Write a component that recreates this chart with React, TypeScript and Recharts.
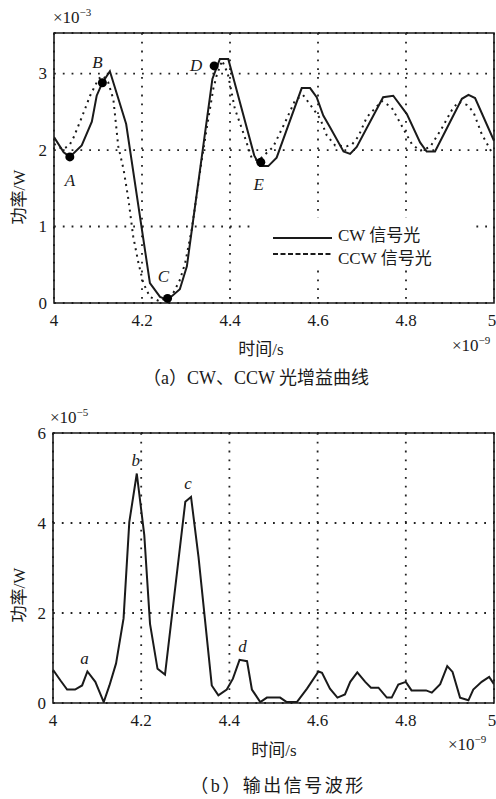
import React from "react";
import {
  ComposedChart,
  Line,
  XAxis,
  YAxis,
  CartesianGrid,
  ReferenceDot,
  ReferenceArea,
} from "recharts";

// --- (a) CW / CCW 光增益曲线: 时间 ×1e-9 s, 功率 ×1e-3 W ---
const cwTime = [
  4.0, 4.022, 4.036, 4.063, 4.086, 4.097, 4.11, 4.127, 4.164, 4.218, 4.241, 4.258,
  4.286, 4.302, 4.36, 4.377, 4.396, 4.404, 4.455, 4.468, 4.487, 4.506, 4.563, 4.582,
  4.597, 4.612, 4.627, 4.658, 4.673, 4.688, 4.748, 4.771, 4.802, 4.832, 4.847, 4.866,
  4.927, 4.942, 4.957, 5.0,
];
const cwPower = [
  2.17, 1.97, 1.91, 2.06, 2.37, 2.71, 2.88, 3.03, 2.34, 0.26, 0.08, 0.04,
  0.18, 0.48, 2.93, 3.19, 3.19, 3.02, 1.93, 1.79, 1.79, 1.9, 2.81, 2.81,
  2.69, 2.45, 2.3, 1.98, 1.95, 2.04, 2.69, 2.71, 2.47, 2.1, 1.98, 1.98,
  2.67, 2.72, 2.68, 2.12,
];
const ccwTime = [
  4.0, 4.02, 4.035, 4.045, 4.064, 4.082, 4.101, 4.112, 4.123, 4.135, 4.146, 4.158,
  4.169, 4.18, 4.192, 4.203, 4.218, 4.241, 4.271, 4.286, 4.298, 4.313, 4.324, 4.335,
  4.347, 4.362, 4.37, 4.382, 4.395, 4.411, 4.43, 4.449, 4.464, 4.498, 4.525, 4.548,
  4.566, 4.589, 4.605, 4.62, 4.639, 4.665, 4.677, 4.692, 4.711, 4.745, 4.767, 4.79,
  4.813, 4.832, 4.855, 4.881, 4.904, 4.919, 4.938, 4.953, 4.972, 4.995,
];
const ccwPower = [
  2.08, 2.01, 2.06, 2.17, 2.44, 2.71, 2.93, 2.97, 2.89, 2.66, 2.05, 1.75,
  1.36, 0.87, 0.52, 0.26, 0.08, 0.02, 0.13, 0.3, 0.52, 0.96, 1.4, 1.84,
  2.28, 2.8, 2.98, 3.17, 3.0, 2.54, 2.23, 1.9, 1.86, 2.04, 2.36, 2.65,
  2.72, 2.54, 2.41, 2.19, 2.06, 2.05, 2.07, 2.18, 2.43, 2.64, 2.56, 2.32,
  2.08, 1.99, 2.04, 2.28, 2.52, 2.63, 2.59, 2.5, 2.21, 1.97,
];
const markNames = ["A", "B", "C", "D", "E"];
const markTime = [4.036, 4.11, 4.258, 4.364, 4.47];
const markPower = [1.91, 2.88, 0.06, 3.1, 1.84];

const timeTicks = [4, 4.2, 4.4, 4.6, 4.8, 5];
const gainTicks = [0, 1, 2, 3];

// --- (b) 输出信号波形: 功率 ×1e-5 W ---
const outTime = [
  4.0, 4.017, 4.032, 4.05, 4.066, 4.078, 4.096, 4.115, 4.128, 4.143, 4.16, 4.173,
  4.19, 4.207, 4.22, 4.237, 4.254, 4.3, 4.313, 4.33, 4.36, 4.375, 4.394, 4.408,
  4.423, 4.44, 4.451, 4.47, 4.485, 4.515, 4.53, 4.553, 4.576, 4.602, 4.61, 4.628,
  4.645, 4.662, 4.674, 4.69, 4.708, 4.721, 4.738, 4.757, 4.768, 4.783, 4.8, 4.813,
  4.846, 4.859, 4.878, 4.894, 4.906, 4.923, 4.942, 4.953, 4.972, 4.989, 5.0,
];
const outPower = [
  0.74, 0.5, 0.3, 0.3, 0.39, 0.7, 0.47, 0.02, 0.39, 0.88, 1.88, 4.02,
  5.1, 3.73, 1.76, 0.76, 0.63, 4.47, 4.58, 3.24, 0.39, 0.17, 0.3, 0.54,
  0.96, 0.93, 0.3, 0.02, 0.12, 0.12, 0.02, 0.02, 0.32, 0.7, 0.67, 0.32,
  0.12, 0.19, 0.47, 0.68, 0.47, 0.34, 0.34, 0.12, 0.12, 0.41, 0.47, 0.28,
  0.28, 0.23, 0.42, 0.82, 0.69, 0.12, 0.06, 0.3, 0.47, 0.58, 0.42,
];
const peakNames = ["a", "b", "c", "d"];
const peakTime = [4.078, 4.19, 4.313, 4.423];
const peakPower = [0.7, 5.1, 4.58, 0.96];
const outTicks = [0, 2, 4, 6];

const SERIF = "'Liberation Serif', 'Times New Roman', 'DejaVu Serif', 'Noto Sans CJK SC', serif";
const INK = "#1a1a1a";

const cwData = cwTime.map((t, i) => ({ t, p: cwPower[i] }));
const ccwData = ccwTime.map((t, i) => ({ t, p: ccwPower[i] }));
const outData = outTime.map((t, i) => ({ t, p: outPower[i] }));

// letter placement relative to the point (px)
const letterShift: Record<string, [number, number]> = {
  A: [0, 24], B: [-5, -20], C: [-4, -22], D: [-18, 0], E: [-2, 22],
  a: [-3, -13], b: [-1, -13], c: [-3, -13], d: [3, -13],
};

const letterLabel = (name: string) => (props: any) => {
  const vb = props.viewBox || {};
  const cx = (vb.x || 0) + (vb.width || 0) / 2;
  const cy = (vb.y || 0) + (vb.height || 0) / 2;
  const [dx, dy] = letterShift[name];
  return (
    <text x={cx + dx} y={cy + dy} textAnchor="middle" dominantBaseline="central"
      fontFamily={SERIF} fontStyle="italic" fontSize={17} fill={INK}>
      {name}
    </text>
  );
};

const XTick = (p: any) => (
  <text x={p.x} y={p.y + 17} textAnchor="middle" dominantBaseline="central"
    fontFamily={SERIF} fontSize={17} fill={INK}>
    {String(p.payload.value)}
  </text>
);
const YTick = (p: any) => (
  <text x={p.x - 7} y={p.y} textAnchor="end" dominantBaseline="central"
    fontFamily={SERIF} fontSize={17} fill={INK}>
    {String(p.payload.value)}
  </text>
);

function Txt({ x, y, size = 17, left = false, rotate = false, spacing = 0, children }: any) {
  return (
    <div
      style={{
        position: "absolute", left: x, top: y, whiteSpace: "nowrap",
        fontFamily: SERIF, fontSize: size, lineHeight: 1, color: INK,
        letterSpacing: spacing,
        transform: `translate(${left ? "0" : "-50%"}, -50%)${rotate ? " rotate(-90deg)" : ""}`,
      }}
    >
      {children}
    </div>
  );
}

const Pow = ({ e }: { e: string }) => (
  <span>×10<sup style={{ fontSize: 11, verticalAlign: 0, position: "relative", top: -7 }}>{e}</sup></span>
);

export default function App() {
  return (
    <div style={{ position: "absolute", left: 0, top: 0, width: 496, height: 799, background: "#fff", overflow: "hidden" }}>
      <div style={{ position: "absolute", left: 0, top: 0 }}>
        <ComposedChart width={496} height={400} margin={{ top: 33, right: 2, bottom: 0, left: 0 }}>
          <CartesianGrid stroke="#222" strokeWidth={1.8} strokeDasharray="1.8 7" />
          <XAxis dataKey="t" type="number" domain={[4, 5]} ticks={timeTicks} allowDataOverflow
            height={97} axisLine={false} tickLine={false} tickSize={0} tickMargin={0} tick={XTick} />
          <YAxis type="number" domain={[0, 3.53]} ticks={gainTicks} allowDataOverflow
            width={54} axisLine={false} tickLine={false} tickSize={0} tickMargin={0} tick={YTick} />
          <ReferenceArea x1={4} x2={5} y1={0} y2={3.53} fill="none" stroke={INK} strokeWidth={1.6} />
          <Line data={ccwData} dataKey="p" type="linear" stroke={INK} strokeWidth={2}
            strokeDasharray="2 4.5" dot={false} isAnimationActive={false} />
          <Line data={cwData} dataKey="p" type="linear" stroke={INK} strokeWidth={2}
            dot={false} isAnimationActive={false} />
          {markNames.map((n, i) => (
            <ReferenceDot key={n} x={markTime[i]} y={markPower[i]} r={4.5} fill="#000" stroke="none"
              label={{ content: letterLabel(n) }} />
          ))}
        </ComposedChart>
        <div style={{ position: "absolute", left: 250, top: 218, width: 223, height: 49, background: "#fff" }}>
          <svg width={223} height={49} style={{ position: "absolute", left: 0, top: 0 }}>
            <line x1={23} x2={82} y1={20} y2={20} stroke={INK} strokeWidth={2} />
            <line x1={23} x2={82} y1={36} y2={36} stroke={INK} strokeWidth={2} strokeDasharray="5 2.5" />
          </svg>
          <Txt x={88} y={17} left>CW 信号光</Txt>
          <Txt x={88} y={40} left>CCW 信号光</Txt>
        </div>
      </div>

      <div style={{ position: "absolute", left: 0, top: 400 }}>
        <ComposedChart width={496} height={399} margin={{ top: 33, right: 2, bottom: 0, left: 0 }}>
          <CartesianGrid stroke="#222" strokeWidth={1.8} strokeDasharray="1.8 7" />
          <XAxis dataKey="t" type="number" domain={[4, 5]} ticks={timeTicks} allowDataOverflow
            height={96} axisLine={false} tickLine={false} tickSize={0} tickMargin={0} tick={XTick} />
          <YAxis type="number" domain={[0, 6]} ticks={outTicks} allowDataOverflow
            width={53} axisLine={false} tickLine={false} tickSize={0} tickMargin={0} tick={YTick} />
          <ReferenceArea x1={4} x2={5} y1={0} y2={6} fill="none" stroke={INK} strokeWidth={1.6} />
          <Line data={outData} dataKey="p" type="linear" stroke={INK} strokeWidth={2}
            dot={false} isAnimationActive={false} />
          {peakNames.map((n, i) => (
            <ReferenceDot key={n} x={peakTime[i]} y={peakPower[i]} r={0} fill="none" stroke="none"
              label={{ content: letterLabel(n) }} />
          ))}
        </ComposedChart>
      </div>

      <Txt x={53} y={17} left size={17}><Pow e="−3" /></Txt>
      <Txt x={19} y={197} rotate>功率/W</Txt>
      <Txt x={261} y={349}>时间/s</Txt>
      <Txt x={452} y={345} left><Pow e="−9" /></Txt>
      <Txt x={256} y={378} size={18}>（a）CW、CCW 光增益曲线</Txt>

      <Txt x={50} y={417} left><Pow e="−5" /></Txt>
      <Txt x={19} y={595} rotate>功率/W</Txt>
      <Txt x={274} y={750}>时间/s</Txt>
      <Txt x={448} y={744} left><Pow e="−9" /></Txt>
      <Txt x={278} y={786} size={18} spacing={2.5}>（b）输出信号波形</Txt>
    </div>
  );
}
